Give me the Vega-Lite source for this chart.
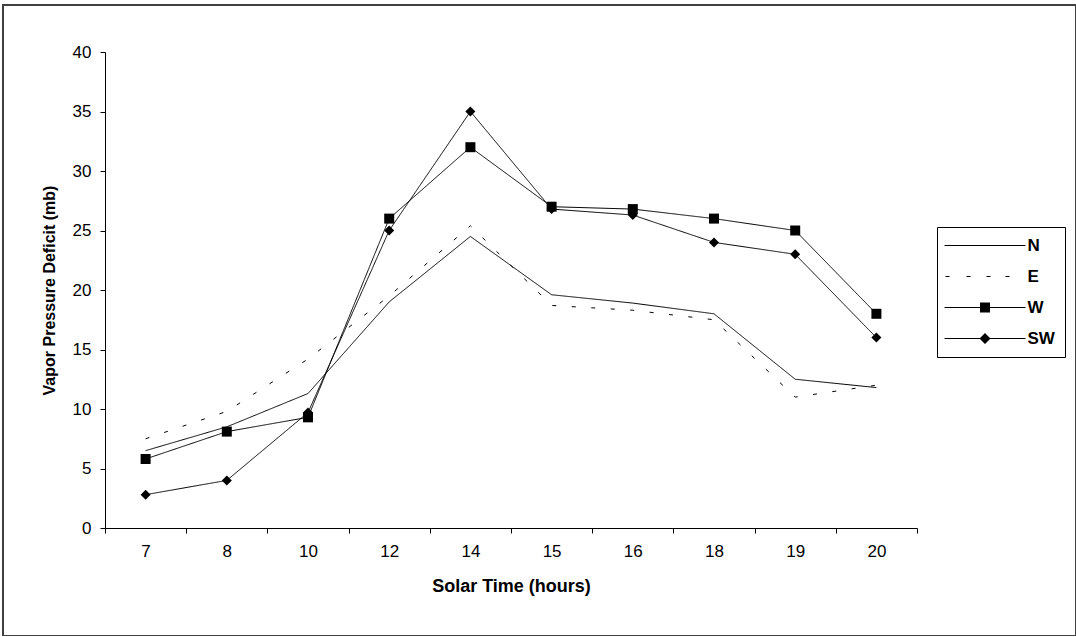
{
  "$schema": "https://vega.github.io/schema/vega-lite/v6.json",
  "width": 1073,
  "height": 631,
  "autosize": {"type": "none"},
  "padding": {"left": 3, "top": 5, "right": 0, "bottom": 0},
  "background": "white",
  "config": {
    "view": {"stroke": "#404040", "strokeWidth": 2},
    "font": "Liberation Sans",
    "axis": {
      "domainColor": "black", "tickColor": "black", "labelColor": "black", "titleColor": "black",
      "grid": false, "labelFont": "Liberation Sans", "titleFont": "Liberation Sans",
      "labelFontSize": 17, "tickSize": 5, "domainWidth": 1, "tickWidth": 1
    }
  },
  "data": {"values": [
    {"time": 7, "series": "N", "value": 6.5}, {"time": 8, "series": "N", "value": 8.5}, {"time": 10, "series": "N", "value": 11.3}, {"time": 12, "series": "N", "value": 19.0}, {"time": 14, "series": "N", "value": 24.5}, {"time": 15, "series": "N", "value": 19.6}, {"time": 16, "series": "N", "value": 18.9}, {"time": 18, "series": "N", "value": 18.0}, {"time": 19, "series": "N", "value": 12.5}, {"time": 20, "series": "N", "value": 11.8},
    {"time": 7, "series": "E", "value": 7.5}, {"time": 8, "series": "E", "value": 9.8}, {"time": 10, "series": "E", "value": 14.2}, {"time": 12, "series": "E", "value": 19.5}, {"time": 14, "series": "E", "value": 25.4}, {"time": 15, "series": "E", "value": 18.7}, {"time": 16, "series": "E", "value": 18.3}, {"time": 18, "series": "E", "value": 17.5}, {"time": 19, "series": "E", "value": 11.0}, {"time": 20, "series": "E", "value": 12.0},
    {"time": 7, "series": "W", "value": 5.8}, {"time": 8, "series": "W", "value": 8.1}, {"time": 10, "series": "W", "value": 9.3}, {"time": 12, "series": "W", "value": 26.0}, {"time": 14, "series": "W", "value": 32.0}, {"time": 15, "series": "W", "value": 27.0}, {"time": 16, "series": "W", "value": 26.8}, {"time": 18, "series": "W", "value": 26.0}, {"time": 19, "series": "W", "value": 25.0}, {"time": 20, "series": "W", "value": 18.0},
    {"time": 7, "series": "SW", "value": 2.8}, {"time": 8, "series": "SW", "value": 4.0}, {"time": 10, "series": "SW", "value": 9.7}, {"time": 12, "series": "SW", "value": 25.0}, {"time": 14, "series": "SW", "value": 35.0}, {"time": 15, "series": "SW", "value": 26.8}, {"time": 16, "series": "SW", "value": 26.3}, {"time": 18, "series": "SW", "value": 24.0}, {"time": 19, "series": "SW", "value": 23.0}, {"time": 20, "series": "SW", "value": 16.0}
  ]},
  "encoding": {
    "x": {
      "field": "time", "type": "ordinal",
      "scale": {"type": "band", "domain": [7, 8, 10, 12, 14, 15, 16, 18, 19, 20], "range": [102, 914], "paddingInner": 0, "paddingOuter": 0},
      "axis": {"title": "Solar Time (hours)", "titleFontSize": 18, "titleFontWeight": "bold", "tickBand": "extent", "labelPadding": 10, "titlePadding": 18, "offset": -108, "labelAngle": 0}
    },
    "y": {
      "field": "value", "type": "quantitative",
      "scale": {"domain": [0, 40], "range": [523, 47], "nice": false, "zero": true},
      "axis": {"title": "Vapor Pressure Deficit (mb)", "titleFontSize": 16, "titleFontWeight": "bold", "values": [0, 5, 10, 15, 20, 25, 30, 35, 40], "offset": -102, "labelPadding": 9, "titlePadding": 15}
    }
  },
  "layer": [
    {
      "mark": {"type": "line", "color": "black", "strokeWidth": 1},
      "encoding": {
        "strokeDash": {"field": "series", "type": "nominal", "scale": {"domain": ["N", "E", "W", "SW"], "range": [[1, 0], [4, 15.5], [1, 0], [1, 0]]}, "legend": null}
      }
    },
    {
      "transform": [{"filter": "datum.series == 'W' || datum.series == 'SW'"}],
      "mark": {"type": "point", "filled": true, "color": "black", "opacity": 1, "size": 100},
      "encoding": {
        "shape": {"field": "series", "type": "nominal", "scale": {"domain": ["W", "SW"], "range": ["square", "diamond"]}, "legend": null}
      }
    },
    {
      "transform": [{"filter": "datum.series == 'none'"}],
      "mark": {"type": "point", "filled": true, "color": "black", "opacity": 1, "size": 100},
      "encoding": {
        "shape": {
          "field": "series", "type": "nominal",
          "scale": {"domain": ["N", "E", "W", "SW"], "range": [
            "M-8.1,-0.1L8.1,-0.1L8.1,0.1L-8.1,0.1Z",
            "M-7.9,-0.1L-7.1,-0.1L-7.1,0.1L-7.9,0.1ZM-3.7,-0.1L-2.9,-0.1L-2.9,0.1L-3.7,0.1ZM0.3,-0.1L1.1,-0.1L1.1,0.1L0.3,0.1ZM4.1,-0.1L4.9,-0.1L4.9,0.1L4.1,0.1Z",
            "M-8.1,-0.1L-1,-0.1L-1,-1L1,-1L1,-0.1L8.1,-0.1L8.1,0.1L1,0.1L1,1L-1,1L-1,0.1L-8.1,0.1Z",
            "M-8.1,-0.1L-1,-0.1L0,-1.1L1,-0.1L8.1,-0.1L8.1,0.1L1,0.1L0,1.1L-1,0.1L-8.1,0.1Z"
          ]},
          "legend": {
            "title": null, "orient": "none", "legendX": 934, "legendY": 222, "padding": 10,
            "strokeColor": "black", "fillColor": "white",
            "symbolOffset": 29.5, "labelOffset": 34, "rowPadding": 13,
            "labelFontSize": 17, "labelFontWeight": "bold", "labelFont": "Liberation Sans", "labelColor": "black",
            "symbolSize": 100, "symbolFillColor": "black", "symbolOpacity": 1
          }
        }
      }
    }
  ],
  "resolve": {"scale": {"shape": "independent"}}
}
